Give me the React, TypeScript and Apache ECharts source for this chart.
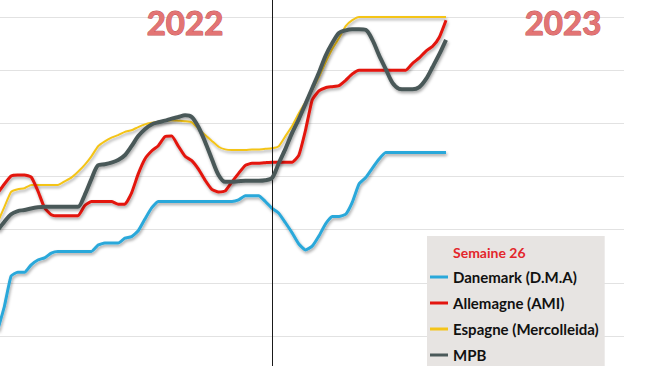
import React, { useEffect, useRef } from "react";
import * as echarts from "echarts";

// Week positions: 2022 weeks 11..52 then 2023 weeks 1..26 (x = 0 at end of 2022)
const weekLabels: string[] = [
  "2022-S11","2022-S12","2022-S13","2022-S14","2022-S15","2022-S16","2022-S17","2022-S18","2022-S19","2022-S20",
  "2022-S21","2022-S22","2022-S23","2022-S24","2022-S25","2022-S26","2022-S27","2022-S28","2022-S29","2022-S30",
  "2022-S31","2022-S32","2022-S33","2022-S34","2022-S35","2022-S36","2022-S37","2022-S38","2022-S39","2022-S40",
  "2022-S41","2022-S42","2022-S43","2022-S44","2022-S45","2022-S46","2022-S47","2022-S48","2022-S49","2022-S50",
  "2022-S51","2022-S52",
  "2023-S1","2023-S2","2023-S3","2023-S4","2023-S5","2023-S6","2023-S7","2023-S8","2023-S9","2023-S10",
  "2023-S11","2023-S12","2023-S13","2023-S14","2023-S15","2023-S16","2023-S17","2023-S18","2023-S19","2023-S20",
  "2023-S21","2023-S22","2023-S23","2023-S24","2023-S25","2023-S26",
];

const danemark: number[] = [
  0.11, 0.56, 1.13, 1.2, 1.2, 1.34, 1.43, 1.47, 1.56, 1.59,
  1.59, 1.59, 1.59, 1.59, 1.59, 1.71, 1.75, 1.75, 1.75, 1.84,
  1.87, 1.98, 2.2, 2.41, 2.53, 2.53, 2.53, 2.53, 2.53, 2.53,
  2.53, 2.53, 2.53, 2.53, 2.53, 2.53, 2.56, 2.64, 2.64, 2.64,
  2.53, 2.4,
  2.31, 2.13, 1.94, 1.73, 1.62, 1.69, 1.88, 2.11, 2.25, 2.25,
  2.29, 2.52, 2.86, 2.98, 3.16, 3.33, 3.45, 3.45, 3.45, 3.45,
  3.45, 3.45, 3.45, 3.45, 3.45, 3.45,
];

const allemagne: number[] = [
  2.69, 2.86, 3.01, 3.03, 3.03, 2.99, 2.73, 2.41, 2.28, 2.26,
  2.26, 2.26, 2.26, 2.45, 2.53, 2.53, 2.53, 2.53, 2.48, 2.48,
  2.69, 3.05, 3.33, 3.48, 3.58, 3.75, 3.76, 3.57, 3.38, 3.3,
  3.14, 2.93, 2.76, 2.71, 2.73, 2.9, 3.06, 3.21, 3.25, 3.25,
  3.26, 3.27,
  3.27, 3.27, 3.27, 3.4, 3.87, 4.44, 4.61, 4.67, 4.69, 4.71,
  4.81, 4.93, 5.0, 5.0, 5.0, 5.0, 5.0, 5.0, 5.0, 5.0,
  5.13, 5.23, 5.36, 5.45, 5.62, 5.94,
];

const espagne: number[] = [
  2.14, 2.43, 2.71, 2.76, 2.78, 2.84, 2.84, 2.84, 2.84, 2.84,
  2.91, 2.98, 3.09, 3.22, 3.38, 3.57, 3.66, 3.73, 3.78, 3.84,
  3.87, 3.93, 3.98, 4.01, 4.03, 4.05, 4.06, 4.05, 4.04, 4.02,
  3.9, 3.78, 3.67, 3.56, 3.51, 3.5, 3.5, 3.5, 3.51, 3.51,
  3.52, 3.53,
  3.57, 3.76, 3.95, 4.19, 4.4, 4.63, 4.87, 5.15, 5.4, 5.6,
  5.83, 5.94, 6.0, 6.0, 6.0, 6.0, 6.0, 6.0, 6.0, 6.0,
  6.0, 6.0, 6.0, 6.0, 6.0, 6.0,
];

const mpb: number[] = [
  1.99, 2.15, 2.29, 2.35, 2.37, 2.4, 2.42, 2.43, 2.43, 2.43,
  2.43, 2.43, 2.43, 2.65, 2.95, 3.21, 3.23, 3.26, 3.31, 3.4,
  3.57, 3.76, 3.89, 3.98, 4.02, 4.05, 4.09, 4.12, 4.15, 4.12,
  3.93, 3.65, 3.33, 3.03, 2.9, 2.9, 2.91, 2.92, 2.92, 2.92,
  2.93, 2.97,
  3.25, 3.52, 3.82, 4.08, 4.37, 4.66, 4.95, 5.27, 5.51, 5.7,
  5.75, 5.77, 5.77, 5.76, 5.57, 5.28, 5.02, 4.76, 4.65, 4.64,
  4.64, 4.68, 4.83, 5.06, 5.3, 5.57,
];

const seriesNames: string[] = ["Danemark (D.M.A)", "Allemagne (AMI)", "Espagne (Mercolleida)", "MPB"];
const yearLabels: string[] = ["2022", "2023"];
const legendTitle = "Semaine 26";

const LAST_2022_INDEX = 41; // index of 2022-S52 in weekLabels

function toPairs(values: number[]): [number, number][] {
  return values.map((v, i) => [i - LAST_2022_INDEX, v]);
}

export default function App() {
  const ref = useRef<HTMLDivElement>(null);

  useEffect(() => {
    if (!ref.current) return;
    const chart = echarts.init(ref.current, undefined, { renderer: "svg" });
    const shadow = {
      shadowColor: "rgba(0,0,0,0.35)",
      shadowBlur: 3,
      shadowOffsetX: 1,
      shadowOffsetY: 2,
    };
    const mk = (name: string, data: number[], color: string, width: number, z: number, smooth: number, extra: any = {}) => ({
      name,
      type: "line",
      data: toPairs(data),
      showSymbol: false,
      symbol: "none",
      smooth,
      z,
      itemStyle: { color },
      lineStyle: { color, width, ...shadow },
      emphasis: { disabled: true },
      ...extra,
    });
    const yearStyle = {
      fontFamily: "Lato",
      fontWeight: "bold",
      fontSize: 33,
      fill: "#E37474",
      stroke: "#C25656",
      lineWidth: 1,
      align: "center",
      verticalAlign: "middle",
      shadowColor: "rgba(0,0,0,0.3)",
      shadowBlur: 2,
      shadowOffsetX: 1,
      shadowOffsetY: 1,
    };
    chart.setOption({
      animation: false,
      grid: { left: 0, right: 26, top: 0, bottom: 0 },
      xAxis: {
        type: "value",
        min: -40.66,
        max: 52.6,
        show: false,
        splitLine: { show: false },
      },
      yAxis: {
        type: "value",
        min: -0.564,
        max: 6.32,
        splitNumber: 7,
        axisLabel: { show: false },
        axisLine: { show: false },
        axisTick: { show: false },
        splitLine: {
          show: true,
          showMinLine: false,
          showMaxLine: false,
          lineStyle: { color: "#E2E2E2", width: 1 },
        },
      },
      legend: {
        orient: "vertical",
        left: 427,
        top: 236,
        padding: [33, 6, 3, 3],
        backgroundColor: "#E7E4E2",
        itemWidth: 18,
        itemHeight: 3,
        itemGap: 10,
        icon: "rect",
        selectedMode: false,
        data: seriesNames,
        textStyle: {
          fontFamily: "Lato",
          fontWeight: "bold",
          fontSize: 15,
          color: "#111111",
          lineHeight: 16,
        },
      },
      title: {
        text: legendTitle,
        left: 448,
        top: 240,
        textStyle: {
          fontFamily: "Lato",
          fontWeight: "bold",
          fontSize: 14,
          color: "#E3262B",
        },
      },
      graphic: [
        { type: "text", x: 185, y: 22, z: 10, style: { text: yearLabels[0], ...yearStyle } },
        { type: "text", x: 563, y: 22, z: 10, style: { text: yearLabels[1], ...yearStyle } },
      ],
      series: [
        mk(seriesNames[0], danemark, "#2AA8DA", 3, 2, 0.15, {
          markLine: {
            silent: true,
            symbol: "none",
            label: { show: false },
            lineStyle: { color: "#1A1A1A", width: 1, type: "solid" },
            data: [{ xAxis: 0 }],
          },
        }),
        mk(seriesNames[1], allemagne, "#E3140E", 3, 4, 0.15),
        mk(seriesNames[2], espagne, "#F4C419", 2, 3, 0.15),
        mk(seriesNames[3], mpb, "#4A5959", 4, 5, 0.3),
      ],
    });
    return () => chart.dispose();
  }, []);

  return <div ref={ref} style={{ width: 650, height: 366, position: "absolute", left: 0, top: 0 }} />;
}
